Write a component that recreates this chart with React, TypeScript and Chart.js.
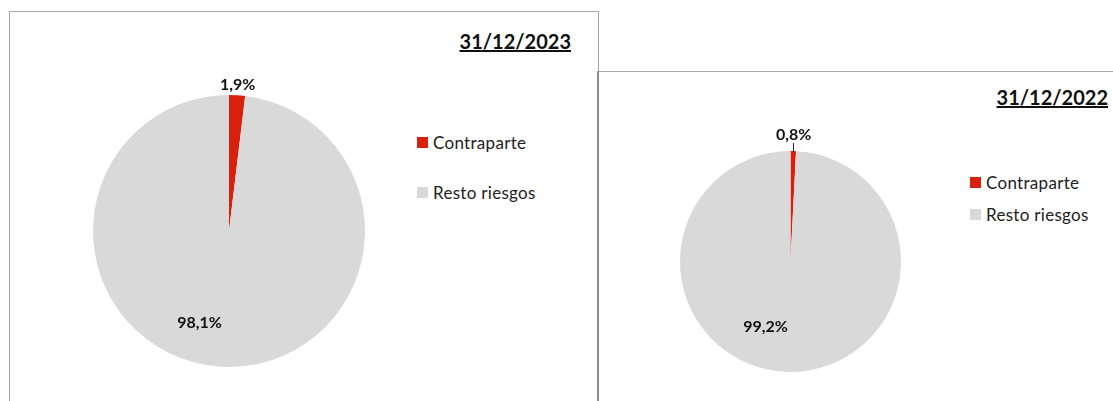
import React, { useEffect, useRef } from "react";
import Chart from "chart.js/auto";

const categories = ["Contraparte", "Resto riesgos"];
const values2023 = [1.9, 98.1];
const values2022 = [0.8, 99.2];
const labels2023 = ["1,9%", "98,1%"];
const labels2022 = ["0,8%", "99,2%"];
const titles = ["31/12/2023", "31/12/2022"];

const RED = "#d9200c";
const GRAY = "#d9d9d9";
const FONT = "Lato, 'Open Sans', sans-serif";

const labelPlugin = {
  id: "pctLabels",
  afterDatasetsDraw(chart: any, _args: any, opts: any) {
    const ctx = chart.ctx;
    const meta = chart.getDatasetMeta(0);
    const texts: string[] = opts.texts;
    ctx.save();
    ctx.fillStyle = "#111";
    ctx.font = `bold ${opts.fontSize}px ${FONT}`;
    ctx.textAlign = "center";
    ctx.textBaseline = "middle";
    meta.data.forEach((arc: any, i: number) => {
      const { x, y, outerRadius, startAngle, endAngle } = arc.getProps(
        ["x", "y", "outerRadius", "startAngle", "endAngle"],
        true
      );
      if (i === 0) {
        const mid = (startAngle + endAngle) / 2;
        const d = outerRadius + opts.outDist;
        const lx = x + Math.cos(mid) * d;
        const ly = y + Math.sin(mid) * d;
        if (opts.leader) {
          ctx.strokeStyle = "#222";
          ctx.lineWidth = 1;
          ctx.beginPath();
          const ex = Math.round(x + Math.cos(mid) * outerRadius) + 0.5;
          ctx.moveTo(ex, y + Math.sin(mid) * (outerRadius - 1));
          ctx.lineTo(ex, y + Math.sin(mid) * (outerRadius + 8));
          ctx.stroke();
        }
        ctx.fillText(texts[i], lx, ly);
      } else {
        ctx.fillText(
          texts[i],
          x + opts.inner[0] * outerRadius,
          y + opts.inner[1] * outerRadius
        );
      }
    });
    ctx.restore();
  },
};

function Pie({ values, texts, size, pad, left, top, outDist, leader, inner }: any) {
  const ref = useRef<HTMLCanvasElement>(null);
  useEffect(() => {
    const chart = new Chart(ref.current!, {
      type: "pie",
      data: {
        labels: categories,
        datasets: [
          {
            data: values,
            backgroundColor: [RED, GRAY],
            borderWidth: 0,
          },
        ],
      },
      options: {
        animation: false,
        responsive: false,
        devicePixelRatio: 1,
        layout: { padding: pad },
        plugins: {
          legend: { display: false },
          tooltip: { enabled: false },
          pctLabels: { texts, fontSize: 16, outDist, leader, inner },
        } as any,
      },
      plugins: [labelPlugin],
    });
    return () => chart.destroy();
  }, []);
  return (
    <canvas
      ref={ref}
      width={size}
      height={size}
      style={{ position: "absolute", left, top, width: size, height: size }}
    />
  );
}

function Legend({ left, top, gap }: any) {
  return (
    <div style={{ position: "absolute", left, top, fontFamily: FONT, fontSize: 17, color: "#222" }}>
      {categories.map((c, i) => (
        <div
          key={c}
          style={{ position: "absolute", top: i * gap, left: 0, display: "flex", alignItems: "center", whiteSpace: "nowrap", height: 20 }}
        >
          <span style={{ display: "inline-block", width: 11, height: 11, background: i === 0 ? RED : GRAY, marginRight: 5 }} />
          <span style={{ letterSpacing: 0.3 }}>{c}</span>
        </div>
      ))}
    </div>
  );
}

function Title({ right, top, text }: any) {
  return (
    <div
      style={{
        position: "absolute",
        right,
        top,
        fontFamily: FONT,
        fontWeight: "bold",
        fontSize: 20,
        textDecoration: "underline",
        color: "#111",
        whiteSpace: "nowrap",
        lineHeight: "24px",
      }}
    >
      {text}
    </div>
  );
}

export default function App() {
  return (
    <div style={{ position: "fixed", left: 0, top: 0, width: 1113, height: 401, overflow: "hidden", background: "#fff" }}>
      <div style={{ position: "absolute", left: 9, top: 11, width: 590, height: 420, boxSizing: "border-box", border: "1px solid #a6a6a6" }} />
      <div style={{ position: "absolute", left: 597, top: 71, width: 540, height: 420, boxSizing: "border-box", border: "1px solid #a6a6a6", borderLeft: "2px solid #8c8c8c" }} />
      <Title right={1113 - 571} top={29} text={titles[0]} />
      <Title right={1113 - 1108} top={85} text={titles[1]} />
      <Pie values={values2023} texts={labels2023} size={332} pad={30} left={63} top={65} outDist={10} leader={false} inner={[-0.217, 0.676]} />
      <Pie values={values2022} texts={labels2022} size={281} pad={30} left={650} top={121} outDist={16} leader={true} inner={[-0.226, 0.588]} />
      <Legend left={417} top={132} gap={50} />
      <Legend left={970} top={172} gap={32} />
    </div>
  );
}
